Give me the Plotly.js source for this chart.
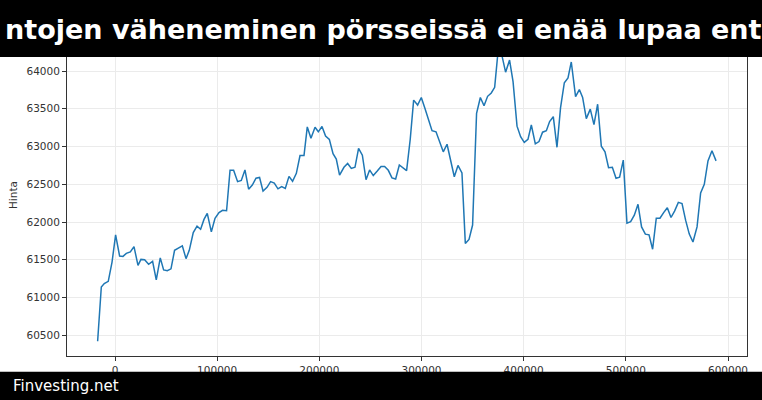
<!DOCTYPE html>
<html>
<head>
<meta charset="utf-8">
<script src="https://cdn.plot.ly/plotly-3.0.1.min.js"></script>
<style>
html,body{margin:0;padding:0;background:#fff;}
#chart{width:762px;height:400px;}
</style>
</head>
<body>
<div id="chart"></div>
<script>
const titleText = "ntojen väheneminen pörsseissä ei enää lupaa ent";
const footerText = "Finvesting.net";
const yLabel = "Hinta";

const xVals = [
  -17000, -13400, -10500, -6600, -2900, 600, 4500, 7800, 11100, 15000,
  18600, 22500, 25400, 29000, 32900, 36800, 40400, 44300, 47600, 51200,
  54800, 58300, 62000, 65900, 69500, 72700, 76600, 80300, 83800, 87100,
  90300, 94300, 97900, 101800, 105300, 109200, 112600, 116100, 120000, 123600,
  127200, 130800, 134400, 138000, 141500, 144900, 148800, 152300, 155900, 159500,
  163100, 166700, 170300, 173800, 177500, 181100, 185000, 188200, 191800, 195800,
  199000, 202600, 206100, 209800, 213400, 216600, 219800, 224100, 227700, 231300,
  234900, 238400, 242100, 245700, 249200, 252800, 256700, 260400, 263900, 267500,
  271100, 274700, 278300, 281900, 285400, 289000, 292300, 296200, 299800, 303400,
  307000, 310300, 314200, 317700, 321300, 325000, 328500, 332100, 335700, 339600,
  342900, 346500, 350000, 353900, 357600, 361200, 364700, 368300, 371600, 375200,
  378800, 382300, 386200, 389600, 393500, 397000, 400600, 404200, 407500, 411400,
  415000, 418500, 422200, 425400, 429000, 432600, 436100, 439800, 443400, 446600,
  450800, 454500, 457700, 461300, 465200, 468800, 472400, 476000, 479600, 483100,
  486800, 490400, 493900, 497500, 501100, 504700, 508300, 511900, 515400, 519100,
  522700, 526200, 529800, 533400, 537000, 540600, 544200, 547700, 551400, 555000,
  558500, 562100, 565700, 569700, 573200, 576800, 580400, 584300, 588300
];

const prices = [
  60420, 61140, 61185, 61215, 61470, 61830, 61550, 61545, 61585, 61605,
  61675, 61425, 61505, 61500, 61440, 61480, 61235, 61525, 61365, 61355,
  61380, 61625, 61655, 61685, 61515, 61625, 61860, 61945, 61905, 62035,
  62115, 61870, 62050, 62125, 62155, 62150, 62685, 62685, 62535, 62550,
  62690, 62435, 62490, 62580, 62590, 62410, 62460, 62535, 62515, 62440,
  62470, 62445, 62605, 62540, 62645, 62880, 62880, 63260, 63110, 63255,
  63195, 63265, 63140, 63095, 62905, 62835, 62620, 62725, 62775, 62710,
  62725, 62975, 62885, 62560, 62690, 62615, 62675, 62735, 62735, 62685,
  62585, 62570, 62755, 62720, 62680, 63100, 63615, 63550, 63650, 63505,
  63360, 63210, 63195, 63060, 62930, 63030, 62805, 62600, 62750, 62650,
  61715, 61770, 61960, 63440, 63650, 63540, 63665, 63710, 63785, 64300,
  64200, 63985, 64145, 63860, 63270, 63130, 63055, 63095, 63285, 63035,
  63065, 63190, 63210, 63330, 63395, 62990, 63515, 63845, 63910, 64120,
  63660, 63755, 63650, 63370, 63495, 63290, 63560, 63005, 62930, 62720,
  62725, 62580, 62595, 62820, 61985, 62005, 62090, 62235, 61935, 61840,
  61830, 61640, 62050, 62050, 62125, 62190, 62060, 62145, 62260, 62245,
  62025, 61840, 61735, 61935, 62385, 62500, 62810, 62945, 62810
];

const xTicks = [0, 100000, 200000, 300000, 400000, 500000, 600000];
const yTicks = [60500, 61000, 61500, 62000, 62500, 63000, 63500, 64000];

const W = 762, H = 400;
const M = {l: 67, r: 15, t: 34, b: 44};
const PW = W - M.l - M.r, PH = H - M.t - M.b;
const px2x = p => (p - M.l) / PW;
const py2y = p => (H - M.b - p) / PH;

const axisCol = '#333333';
const font = 'DejaVu Sans, sans-serif';

const trace = {
  x: xVals, y: prices, type: 'scatter', mode: 'lines',
  line: {color: '#1f77b4', width: 1.5}, hoverinfo: 'skip'
};

const layout = {
  width: W, height: H,
  margin: M,
  paper_bgcolor: '#ffffff', plot_bgcolor: '#ffffff',
  showlegend: false,
  font: {family: font, size: 10.5, color: axisCol},
  title: {
    text: titleText,
    font: {family: font, size: 27, color: '#ffffff', weight: 'bold'},
    x: 0.503, xref: 'container', xanchor: 'center',
    y: 1 - 29.7 / H, yref: 'container', yanchor: 'middle'
  },
  xaxis: {
    range: [-46980, 618590], tickvals: xTicks, tickformat: 'd',
    showgrid: true, gridcolor: '#ebebeb', gridwidth: 1, zeroline: false,
    showline: true, linecolor: axisCol, linewidth: 1, mirror: true,
    ticks: 'outside', ticklen: 4, tickcolor: axisCol, tickwidth: 1,
    tickfont: {family: font, size: 10.5, color: axisCol}
  },
  yaxis: {
    range: [60225.5, 64490.5], tickvals: yTicks, tickformat: 'd',
    showgrid: true, gridcolor: '#ebebeb', gridwidth: 1, zeroline: false,
    showline: true, linecolor: axisCol, linewidth: 1, mirror: true,
    ticks: 'outside', ticklen: 4, tickcolor: axisCol, tickwidth: 1,
    tickfont: {family: font, size: 10.5, color: axisCol},
    title: {text: yLabel, font: {family: font, size: 10.5, color: axisCol}, standoff: 6}
  },
  shapes: [
    {type: 'rect', xref: 'paper', yref: 'paper', layer: 'above',
     x0: -0.3, x1: 1.3, y0: py2y(57), y1: py2y(-10),
     fillcolor: '#000000', line: {width: 0}},
    {type: 'rect', xref: 'paper', yref: 'paper', layer: 'above',
     x0: -0.3, x1: 1.3, y0: py2y(410), y1: py2y(371.7),
     fillcolor: '#000000', line: {width: 0}}
  ],
  annotations: [
    {text: footerText, xref: 'paper', yref: 'paper',
     x: px2x(11), xanchor: 'left', y: py2y(385.5), yanchor: 'middle',
     showarrow: false, font: {family: font, size: 15, color: '#ffffff'}}
  ]
};

Plotly.newPlot('chart', [trace], layout, {displayModeBar: false, staticPlot: true});
</script>
</body>
</html>
